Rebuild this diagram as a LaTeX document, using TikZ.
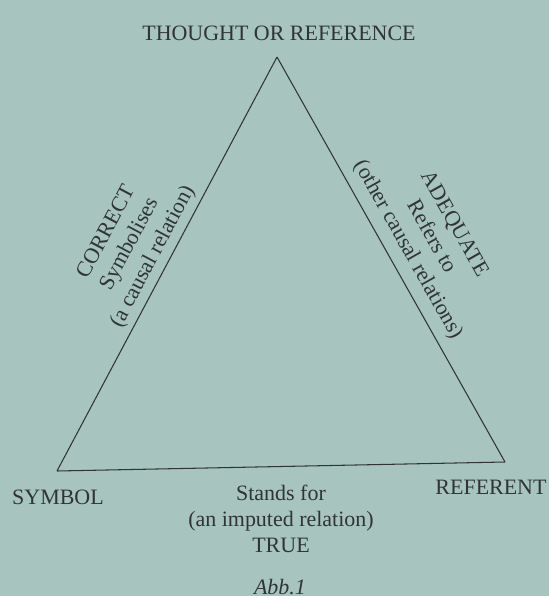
\documentclass[tikz,border=0pt]{standalone}
\usepackage{fontspec}
\setmainfont{Liberation Serif}
\usetikzlibrary{positioning}

\definecolor{paper}{RGB}{168,196,190}
\definecolor{ink}{RGB}{48,52,54}

\begin{document}
\begin{tikzpicture}[
    x=0.02cm, y=-0.02cm,
    every node/.style={text=ink, font=\fontsize{12.5}{15}\selectfont},
    corner/.style={inner sep=0pt},
    relation/.style={align=center, inner sep=0pt},
    edge/.style={draw=ink, line width=0.6pt}
]

% Page background
\fill[paper] (0,0) rectangle (549,596);
\useasboundingbox (0,0) rectangle (549,596);

% Corners of the triangle
\coordinate (apex) at (277,57);
\coordinate (sym) at (57,471);
\coordinate (ref) at (505,462);

% Corner labels
\node[corner] (thought) at (279,33) {THOUGHT OR REFERENCE};
\node[corner] (symbol) at (58,497) {SYMBOL};
\node[corner] (referent) at (491,487) {REFERENT};

% Edges and relations
\draw[edge] (sym) -- node[relation, sloped, above=3pt] {CORRECT \\ Symbolises \\ (a causal relation)} (apex);
\draw[edge] (apex) -- node[relation, sloped, above=5pt] {ADEQUATE \\ Refers to \\ (other causal relations)} (ref);
\draw[edge] (sym) -- node[relation, below=10pt] (stands) {Stands for \\ (an imputed relation) \\ TRUE} (ref);

% Caption
\node[corner] (abb) at (280,587) {\textit{Abb.1}};

\end{tikzpicture}
\end{document}
